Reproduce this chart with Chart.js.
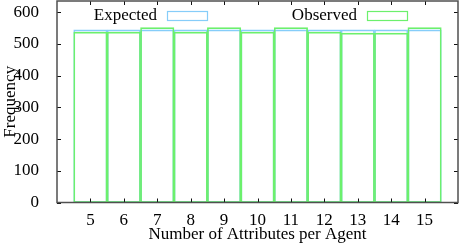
<!DOCTYPE html>
<html>
<head>
<meta charset="utf-8">
<script src="https://cdn.jsdelivr.net/npm/chart.js@4/dist/chart.umd.min.js"></script>
<style>
  html, body { margin: 0; padding: 0; background: #fff; }
  #wrap { width: 461px; height: 245px; }
</style>
</head>
<body>
<div id="wrap"><canvas id="chart"></canvas></div>
<script>
/* global Chart */
const attributes = [5, 6, 7, 8, 9, 10, 11, 12, 13, 14, 15];
const expected = [544, 544, 544, 544, 544, 544, 544, 544, 544, 544, 544];
const observed = [537, 537, 551, 537, 551, 537, 551, 537, 534, 534, 551];
const yTicks = [0, 100, 200, 300, 400, 500, 600];
const seriesLabels = ['Expected', 'Observed'];

const FONT = '"Liberation Serif", "Times New Roman", serif';
const BLUE = '#86cdf9';
const GREEN = '#6cf06c';

function toPoints(values) {
  return attributes.map((x, i) => ({ x, y: values[i] }));
}

// gnuplot-like frame: border, inward ticks on every side, legend in the top
const gnuplotFrame = {
  id: 'gnuplotFrame',
  afterDraw(chart) {
    const { ctx, chartArea: a } = chart;
    const xs = chart.scales.x;
    const ys = chart.scales.y;
    const left = a.left;
    const top = Math.max(a.top, 0.75);
    const right = Math.min(a.right, 458);
    const bottom = a.bottom;
    ctx.save();
    ctx.globalAlpha = 1;
    ctx.setLineDash([]);

    ctx.beginPath();
    ctx.strokeStyle = '#111111';
    ctx.lineWidth = 1;
    yTicks.forEach((v) => {
      const y = Math.round(ys.getPixelForValue(v)) + 0.5;
      ctx.moveTo(left, y);
      ctx.lineTo(left + 4, y);
      ctx.moveTo(right, y);
      ctx.lineTo(right - 4, y);
    });
    attributes.forEach((v) => {
      const x = Math.round(xs.getPixelForValue(v)) + 0.5;
      ctx.moveTo(x, bottom);
      ctx.lineTo(x, bottom - 4);
      ctx.moveTo(x, top);
      ctx.lineTo(x, top + 4);
    });
    ctx.stroke();

    ctx.beginPath();
    ctx.strokeStyle = '#505050';
    ctx.lineWidth = 1.5;
    ctx.moveTo(left, top);
    ctx.lineTo(right, top);
    ctx.lineTo(right, bottom);
    ctx.lineTo(left, bottom);
    ctx.closePath();
    ctx.stroke();

    // legend
    ctx.font = '17px ' + FONT;
    ctx.fillStyle = '#000';
    ctx.textAlign = 'right';
    ctx.textBaseline = 'middle';
    const keys = [
      { text: seriesLabels[0], color: BLUE, x: 157 },
      { text: seriesLabels[1], color: GREEN, x: 357 },
    ];
    keys.forEach((k) => {
      ctx.fillText(k.text, k.x, 16);
      ctx.strokeStyle = k.color;
      ctx.lineWidth = 1.2;
      ctx.strokeRect(k.x + 10.5, 11.5, 40, 9);
    });
    ctx.restore();
  },
};

new Chart(document.getElementById('chart'), {
  type: 'bar',
  data: {
    datasets: [
      {
        label: seriesLabels[0],
        data: toPoints(expected),
        backgroundColor: 'rgba(0,0,0,0)',
        borderColor: BLUE,
        borderWidth: 1,
        order: 2,
      },
      {
        label: seriesLabels[1],
        data: toPoints(observed),
        backgroundColor: 'rgba(0,0,0,0)',
        borderColor: GREEN,
        borderWidth: 1,
        order: 1,
      },
    ],
  },
  options: {
    responsive: true,
    maintainAspectRatio: false,
    animation: false,
    layout: { autoPadding: false, padding: { top: 1, right: 3, left: 0, bottom: 0 } },
    datasets: {
      bar: {
        grouped: false,
        barPercentage: 1,
        categoryPercentage: 1,
        borderSkipped: false,
      },
    },
    plugins: { legend: { display: false }, tooltip: { enabled: false } },
    scales: {
      x: {
        type: 'linear',
        min: 4,
        max: 16,
        offset: false,
        grid: { display: false, offset: false },
        border: { display: false },
        afterFit: (s) => {
          s.height = 42.5;
          s.paddingLeft = 0;
          s.paddingRight = 0;
        },
        afterBuildTicks: (s) => { s.ticks = attributes.map((value) => ({ value })); },
        ticks: {
          autoSkip: false,
          maxRotation: 0,
          padding: 0,
          color: '#000',
          font: { family: FONT, size: 17 },
        },
        title: {
          display: true,
          text: 'Number of Attributes per Agent',
          color: '#000',
          font: { family: FONT, size: 17 },
          padding: { top: 0, bottom: 0 },
        },
      },
      y: {
        min: 0,
        max: 635,
        grid: { display: false },
        border: { display: false },
        afterFit: (s) => {
          s.width = 57;
          s.paddingTop = 0;
          s.paddingBottom = 0;
        },
        afterBuildTicks: (s) => { s.ticks = yTicks.map((value) => ({ value })); },
        ticks: {
          padding: 10,
          color: '#000',
          font: { family: FONT, size: 17 },
        },
        title: {
          display: true,
          text: 'Frequency',
          color: '#000',
          font: { family: FONT, size: 17 },
          padding: { top: 0, bottom: 0 },
        },
      },
    },
  },
  plugins: [gnuplotFrame],
});
</script>
</body>
</html>
